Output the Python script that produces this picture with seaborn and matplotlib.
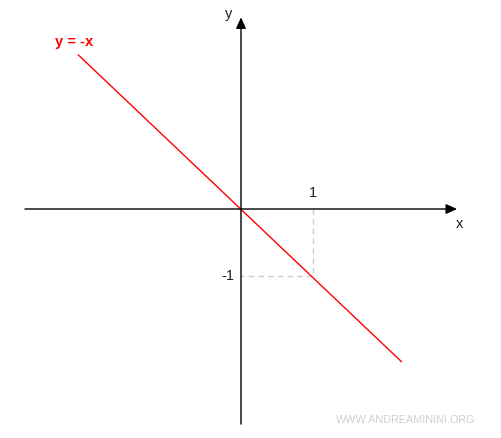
import matplotlib
matplotlib.use("Agg")
import matplotlib.pyplot as plt
import seaborn as sns
import pandas as pd

sns.set_theme(style="white")
plt.rcParams['font.family'] = ['Liberation Sans', 'DejaVu Sans']

# data
line_x = [-2.26, 2.23]
line_y = [2.30, -2.28]
guide_x = [1, 1, 0]
guide_y = [0, -1, -1]
tick_labels = ["1", "-1"]
xaxis_range = [-3.0, 3.0]
yaxis_range = [-3.21, 2.86]

fig = plt.figure(figsize=(5.01, 4.38), dpi=100)
ax = fig.add_axes([0, 0, 1, 1])
ax.set_xlim(-241/72, (501-241)/72)
ax.set_ylim(-(438-209)/67, 209/67)
ax.axis('off')

# guides
gdf = pd.DataFrame({"x": guide_x, "y": guide_y})
ax.plot(gdf["x"], gdf["y"], color="#cccccc", lw=1, ls=(0, (4, 3)))

# axes arrows
style = "-|>,head_length=0.55,head_width=0.25"
ax.annotate("", xy=(xaxis_range[1], 0), xytext=(xaxis_range[0], 0),
            arrowprops=dict(arrowstyle=style, color="black", lw=1, shrinkA=0, shrinkB=0))
ax.annotate("", xy=(0, yaxis_range[1]), xytext=(0, yaxis_range[0]),
            arrowprops=dict(arrowstyle=style, color="black", lw=1, shrinkA=0, shrinkB=0))

# main line
df = pd.DataFrame({"x": line_x, "y": line_y})
sns.lineplot(data=df, x="x", y="y", ax=ax, color="red", lw=1, estimator=None)

ax.set_xlabel("")
ax.set_ylabel("")

fs = 10.5
ax.text(1, 0.14, tick_labels[0], ha="center", va="bottom", fontsize=fs, color="#222222")
ax.text(-0.09, -1, tick_labels[1], ha="right", va="center", fontsize=fs, color="#222222")
ax.text((460-241)/72, (209-224)/67, "x", ha="center", va="center", fontsize=fs, color="#222222")
ax.text((229-241)/72, (209-14)/67, "y", ha="center", va="center", fontsize=fs, color="#222222")
ax.text((74-241)/72, (209-42)/67, "y = -x", ha="center", va="center", fontsize=fs,
        color="red", fontweight="bold")
ax.text((406-241)/72, (209-420)/67, "WWW.ANDREAMININI.ORG", ha="center", va="center",
        fontsize=7.8, color="#d0d0d0")

fig.savefig("out.png", dpi=100)
